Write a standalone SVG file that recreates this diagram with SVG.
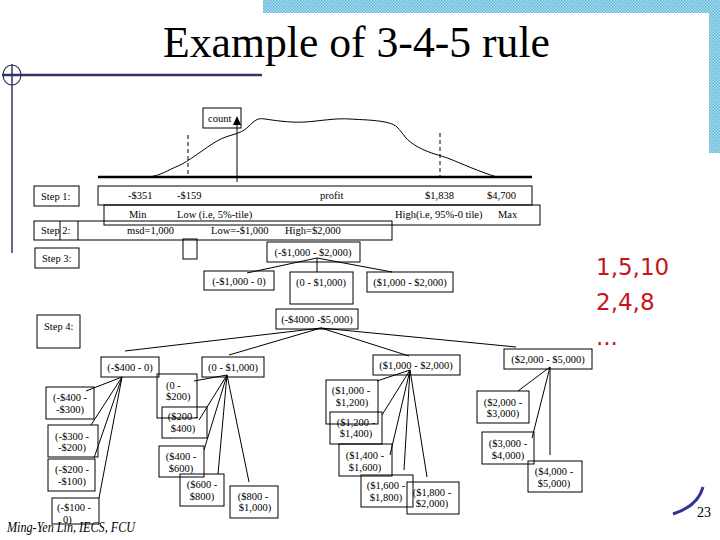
<svg xmlns="http://www.w3.org/2000/svg" width="720" height="540" viewBox="0 0 720 540">
<defs>
<pattern id="chk" width="3" height="3" patternUnits="userSpaceOnUse">
<rect width="3" height="3" fill="#b4e0f0"/>
<rect width="1.5" height="1.5" fill="#5cb6da"/>
<rect x="1.5" y="1.5" width="1.5" height="1.5" fill="#5cb6da"/>
</pattern>
</defs>
<style>
.t{font-family:"Liberation Serif","Times New Roman",serif;font-size:10.5px;fill:#000}
.c{text-anchor:middle}
.b{fill:none;stroke:#000;stroke-width:1}
.ln{stroke:#000;stroke-width:1;fill:none}
.red{font-family:"DejaVu Sans",Verdana,sans-serif;font-size:23px;fill:#c8141e}
</style>
<rect width="720" height="540" fill="#fff"/>
<g id="decor">
<rect x="263" y="0" width="457" height="13" fill="url(#chk)"/>
<rect x="709" y="0" width="11" height="153" fill="url(#chk)"/>
<line x1="2" y1="75" x2="262" y2="75" stroke="#333366" stroke-width="2.5"/>
<ellipse cx="12" cy="75" rx="9" ry="10" fill="none" stroke="#333366" stroke-width="1.2"/>
<line x1="12" y1="64" x2="12" y2="253" stroke="#333366" stroke-width="1.5"/>
<path d="M673,514 Q698,506 703,487" fill="none" stroke="#333399" stroke-width="3"/>
</g>
<text x="163" y="57" font-family="Liberation Serif,'Times New Roman',serif" font-size="45" textLength="387" lengthAdjust="spacingAndGlyphs">Example of 3-4-5 rule</text>
<g id="distribution">
<line x1="98" y1="177" x2="532" y2="177" stroke="#000" stroke-width="2.5"/>
<path class="ln" d="M148,177 C160,176 168,170 178,166 S205,148 217,141 S240,135 248,127 S258,118 265,119 S290,123 305,122 S335,118 350,119 S390,120 397,127 S405,140 418,147 S440,155 450,159 S480,172 497,177"/>
<line x1="188" y1="135" x2="188" y2="175" stroke="#000" stroke-dasharray="4,3"/>
<line x1="440" y1="133" x2="440" y2="177" stroke="#000" stroke-dasharray="4,3"/>
</g>
<g id="count">
<rect class="b" x="203" y="108" width="38" height="20"/>
<text class="t" x="208" y="122" font-size="10">count</text>
<line class="ln" x1="237" y1="182" x2="237" y2="123"/>
<polygon points="233,125 241,125 237,116" fill="#000"/>
</g>
<g id="step1">
<rect class="b" x="34" y="186" width="45" height="20"/>
<text class="t" x="41" y="200">Step 1:</text>
<rect class="b" x="98" y="186" width="434" height="19"/>
<text class="t" x="128" y="199">-$351</text>
<text class="t" x="177" y="199">-$159</text>
<text class="t" x="320" y="199">profit</text>
<text class="t" x="425" y="199">$1,838</text>
<text class="t" x="487" y="199">$4,700</text>
</g>
<g id="minrow">
<rect class="b" x="104" y="205" width="436" height="20"/>
<text class="t" x="129" y="218">Min</text>
<text class="t" x="177" y="218">Low (i.e, 5%-tile)</text>
<text class="t" x="395" y="218">High(i.e, 95%-0 tile)</text>
<text class="t" x="498" y="218">Max</text>
</g>
<g id="step2">
<rect class="b" x="34" y="221" width="358" height="19"/>
<line class="ln" x1="60" y1="221" x2="60" y2="240"/>
<line class="ln" x1="78" y1="221" x2="78" y2="240"/>
<text class="t" x="41" y="234">Step 2:</text>
<text class="t" x="127" y="234">msd=1,000</text>
<text class="t" x="211" y="234">Low=-$1,000</text>
<text class="t" x="285" y="234">High=$2,000</text>
</g>
<g id="smallbox"><rect class="b" x="183" y="239" width="14" height="20"/></g>
<g id="step3label">
<rect class="b" x="35" y="248" width="44" height="20"/>
<text class="t" x="42" y="262">Step 3:</text>
</g>
<g id="step4label">
<rect class="b" x="37" y="315" width="43" height="33"/>
<text class="t" x="44" y="330">Step 4:</text>
</g>
<g id="connectors">
<path class="ln" d="M317,258 L247,273 M317,258 L317,272 M317,258 L392,272"/>
<path class="ln" d="M321,328 L125,351 M321,328 L229,355 M321,328 L409,356 M321,328 L516,347"/>
<path class="ln" d="M122,377 L86,391 M122,377 L91,425 M122,377 L94,458 M122,377 L99,498"/>
<path class="ln" d="M227,375 L194,381 M227,375 L199,420 M227,375 L204,450 M227,375 L218,474 M227,375 L249,482"/>
<path class="ln" d="M410,370 L377,381 M410,370 L382,415 M410,370 L390,455 M410,370 L404,470 M410,370 L427,477"/>
<path class="ln" d="M550,367 L518,391 M550,367 L532,438 M550,367 L550,455"/>
</g>
<g id="s3root"><rect class="b" x="267" y="242" width="93" height="20"/><text class="t c" x="313" y="256">(-$1,000 - $2,000)</text></g>
<g id="s3a"><rect class="b" x="204" y="271" width="70" height="19"/><text class="t c" x="239" y="285">(-$1,000 - 0)</text></g>
<g id="s3b"><rect class="b" x="290" y="272" width="63" height="32"/><text class="t c" x="321" y="286">(0 - $1,000)</text></g>
<g id="s3c"><rect class="b" x="367" y="272" width="86" height="20"/><text class="t c" x="410" y="286">($1,000 - $2,000)</text></g>
<g id="s4root"><rect class="b" x="276" y="309" width="82" height="20"/><text class="t c" x="317" y="323">(-$4000 -$5,000)</text></g>
<g id="n400"><rect class="b" x="101" y="357" width="58" height="20"/><text class="t c" x="130" y="371">(-$400 - 0)</text></g>
<g id="n0"><rect class="b" x="202" y="357" width="62" height="20"/><text class="t c" x="233" y="371">(0 - $1,000)</text></g>
<g id="n1000"><rect class="b" x="373" y="355" width="87" height="20"/><text class="t c" x="416" y="369">($1,000 - $2,000)</text></g>
<g id="n2000"><rect class="b" x="504" y="349" width="88" height="20"/><text class="t c" x="548" y="363">($2,000 - $5,000)</text></g>
<g id="l1"><rect class="b" x="46" y="387" width="48" height="32"/><text class="t c" x="70" y="401">(-$400 -</text><text class="t c" x="70" y="413">-$300)</text></g>
<g id="l2"><rect class="b" x="48" y="425" width="50" height="32"/><text class="t c" x="72" y="440">(-$300 -</text><text class="t c" x="72" y="451">-$200)</text></g>
<g id="l3"><rect class="b" x="48" y="459" width="47" height="32"/><text class="t c" x="72" y="473">(-$200 -</text><text class="t c" x="72" y="485">-$100)</text></g>
<g id="l4"><rect class="b" x="52" y="498" width="47" height="26"/><text class="t c" x="74" y="511">(-$100 -</text><text class="t" x="63" y="523">0)</text></g>
<g id="l5"><rect class="b" x="157" y="374" width="40" height="44"/><text class="t" x="166" y="389">(0 -</text><text class="t" x="166" y="400">$200)</text></g>
<g id="l6"><rect class="b" x="162" y="407" width="45" height="31"/><text class="t c" x="183" y="420">($200 -</text><text class="t c" x="183" y="432">$400)</text></g>
<g id="l7"><rect class="b" x="159" y="446" width="45" height="31"/><text class="t c" x="181" y="460">($400 -</text><text class="t c" x="181" y="472">$600)</text></g>
<g id="l8"><rect class="b" x="180" y="474" width="44" height="32"/><text class="t c" x="202" y="488">($600 -</text><text class="t c" x="202" y="500">$800)</text></g>
<g id="l9"><rect class="b" x="230" y="486" width="48" height="32"/><text class="t c" x="253" y="500">($800 -</text><text class="t c" x="255" y="511">$1,000)</text></g>
<g id="l10"><rect class="b" x="326" y="380" width="52" height="44"/><text class="t c" x="351" y="394">($1,000 -</text><text class="t c" x="352" y="406">$1,200)</text></g>
<g id="l11"><rect class="b" x="330" y="412" width="52" height="32"/><text class="t c" x="356" y="426">($1,200 -</text><text class="t c" x="356" y="437">$1,400)</text></g>
<g id="l12"><rect class="b" x="339" y="444" width="53" height="32"/><text class="t c" x="365" y="459">($1,400 -</text><text class="t c" x="365" y="471">$1,600)</text></g>
<g id="l13"><rect class="b" x="361" y="475" width="52" height="32"/><text class="t c" x="386" y="489">($1,600 -</text><text class="t c" x="386" y="501">$1,800)</text></g>
<g id="l14"><rect class="b" x="407" y="482" width="52" height="32"/><text class="t c" x="432" y="496">($1,800 -</text><text class="t c" x="432" y="507">$2,000)</text></g>
<g id="l15"><rect class="b" x="477" y="391" width="52" height="32"/><text class="t c" x="503" y="406">($2,000 -</text><text class="t c" x="503" y="417">$3,000)</text></g>
<g id="l16"><rect class="b" x="482" y="432" width="52" height="32"/><text class="t c" x="508" y="447">($3,000 -</text><text class="t c" x="508" y="459">$4,000)</text></g>
<g id="l17"><rect class="b" x="528" y="461" width="54" height="31"/><text class="t c" x="554" y="475">($4,000 -</text><text class="t c" x="554" y="487">$5,000)</text></g>
<g id="notes">
<text class="red" x="596" y="275">1,5,10</text>
<text class="red" x="596" y="310">2,4,8</text>
<text class="red" x="596" y="345">...</text>
</g>
<text x="7" y="532" font-family="Liberation Serif,'Times New Roman',serif" font-size="14" font-style="italic" textLength="128" lengthAdjust="spacingAndGlyphs">Ming-Yen Lin, IECS, FCU</text>
<text x="697" y="517" font-family="Liberation Serif,'Times New Roman',serif" font-size="14">23</text>
</svg>
